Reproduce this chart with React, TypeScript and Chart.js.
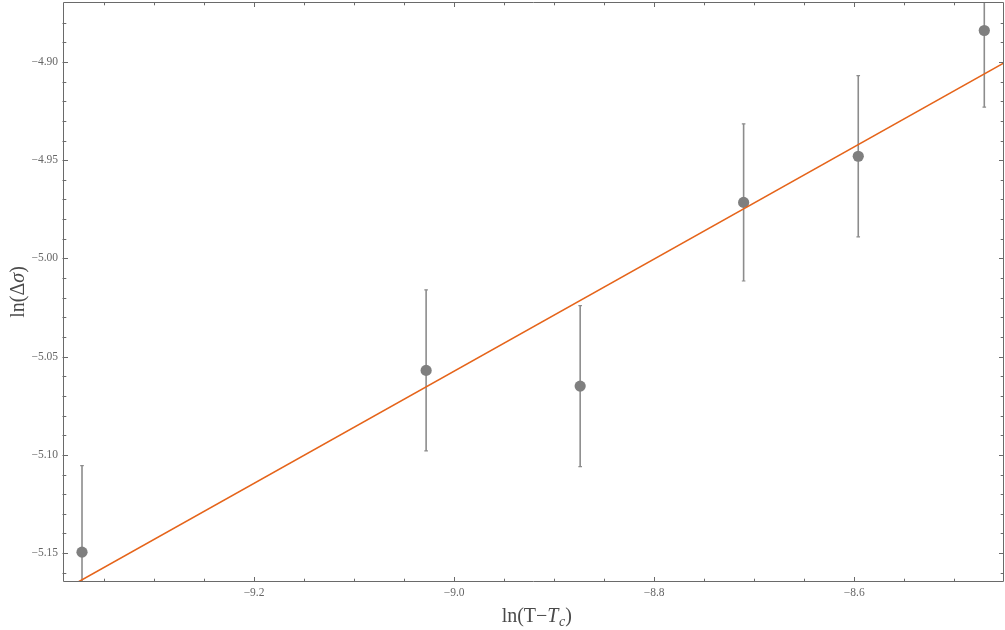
import React, { useEffect, useRef } from "react";
import { Chart, registerables } from "chart.js";

Chart.register(...registerables);

// ---- data ----
const xValues = [-9.372, -9.028, -8.874, -8.7106, -8.596, -8.47];
const yValues = [-5.1495, -5.057, -5.065, -4.9715, -4.948, -4.884];
const yErrors = [0.044, 0.041, 0.041, 0.04, 0.041, 0.039];

const fitX = [-9.391, -8.4503];
const fitY = [-5.169, -4.9005];

const xMajorTicks = [-9.2, -9.0, -8.8, -8.6];
const xMinorTicks = [-9.35, -9.3, -9.25, -9.15, -9.1, -9.05, -8.95, -8.9, -8.85, -8.75, -8.7, -8.65, -8.55, -8.5];
const yMajorTicks = [-4.9, -4.95, -5.0, -5.05, -5.1, -5.15];
const yMinorTicks = [
  -4.88, -4.89, -4.91, -4.92, -4.93, -4.94, -4.96, -4.97, -4.98, -4.99,
  -5.01, -5.02, -5.03, -5.04, -5.06, -5.07, -5.08, -5.09,
  -5.11, -5.12, -5.13, -5.14, -5.16,
];

const X_MIN = -9.391;
const X_MAX = -8.4503;
const Y_MIN = -5.1647;
const Y_MAX = -4.8695;

const FRAME = "#6a6a6a";
const TICK_LABEL = "#666666";
const TITLE = "#4a4a4a";
const POINT = "#7f7f7f";
const ERRBAR = "#8c8c8c";
const FIT = "#e5641a";

const fmt = (v: number, d: number) => {
  const s = Math.abs(v).toFixed(d);
  return v < 0 ? "\u2212" + s : s;
};

const decorPlugin = {
  id: "decor",
  beforeDatasetsDraw(chart: any) {
    const { ctx, chartArea: a, scales } = chart;
    const xs = scales.x;
    const ys = scales.y;
    ctx.save();
    ctx.beginPath();
    ctx.rect(a.left, a.top, a.right - a.left, a.bottom - a.top);
    ctx.clip();
    ctx.strokeStyle = ERRBAR;
    xValues.forEach((xv, i) => {
      const px = xs.getPixelForValue(xv);
      const top = ys.getPixelForValue(yValues[i] + yErrors[i]);
      const bot = ys.getPixelForValue(yValues[i] - yErrors[i]);
      ctx.lineWidth = 1.6;
      ctx.beginPath();
      ctx.moveTo(px, top);
      ctx.lineTo(px, bot);
      ctx.stroke();
      ctx.lineWidth = 1.2;
      ctx.beginPath();
      ctx.moveTo(px - 1.8, top);
      ctx.lineTo(px + 1.8, top);
      ctx.moveTo(px - 1.8, bot);
      ctx.lineTo(px + 1.8, bot);
      ctx.stroke();
    });
    ctx.restore();
  },
  afterDraw(chart: any) {
    const { ctx, chartArea: a, scales } = chart;
    const xs = scales.x;
    const ys = scales.y;
    ctx.save();
    ctx.strokeStyle = FRAME;
    ctx.lineWidth = 1;
    const L = Math.round(a.left) + 0.5;
    const R = Math.round(a.right) - 0.5;
    const T = Math.round(a.top) + 0.5;
    const B = Math.round(a.bottom) - 0.5;
    ctx.beginPath();
    ctx.rect(L, T, R - L, B - T);
    ctx.stroke();
    const major = 4.5;
    const minor = 2.8;
    ctx.beginPath();
    const xt = (v: number, len: number) => {
      const p = Math.round(xs.getPixelForValue(v)) + 0.5;
      ctx.moveTo(p, B);
      ctx.lineTo(p, B - len);
      ctx.moveTo(p, T);
      ctx.lineTo(p, T + len);
    };
    const yt = (v: number, len: number) => {
      const p = Math.round(ys.getPixelForValue(v)) + 0.5;
      ctx.moveTo(L - 1, p);
      ctx.lineTo(L + len, p);
      ctx.moveTo(R, p);
      ctx.lineTo(R - len, p);
    };
    xMajorTicks.forEach((v) => xt(v, major));
    xMinorTicks.forEach((v) => xt(v, minor));
    yMajorTicks.forEach((v) => yt(v, major));
    yMinorTicks.forEach((v) => yt(v, minor));
    ctx.stroke();

    // axis titles
    ctx.fillStyle = TITLE;
    ctx.textBaseline = "alphabetic";
    const fam = "'Liberation Serif', 'DejaVu Serif', serif";
    const parts: [string, string][] = [
      ["ln(T\u2212", `20px ${fam}`],
      ["T", `italic 20px ${fam}`],
      ["c", `italic 14px ${fam}`],
      [")", `20px ${fam}`],
    ];
    let total = 0;
    const widths = parts.map(([t, f]) => {
      ctx.font = f;
      const w = ctx.measureText(t).width;
      total += w;
      return w;
    });
    let cx = (a.left + a.right) / 2 - total / 2 + 3;
    const baseY = 622;
    parts.forEach(([t, f], i) => {
      ctx.font = f;
      ctx.fillText(t, cx, i === 2 ? baseY + 4 : baseY);
      cx += widths[i] + (i === 1 ? 0.5 : 0);
    });

    ctx.save();
    ctx.translate(24, (a.top + a.bottom) / 2);
    ctx.rotate(-Math.PI / 2);
    const yparts: [string, string][] = [
      ["ln(\u0394", `20px ${fam}`],
      ["\u03c3", `italic 20px ${fam}`],
      [")", `20px ${fam}`],
    ];
    let yt2 = 0;
    const yw = yparts.map(([t, f]) => {
      ctx.font = f;
      const w = ctx.measureText(t).width;
      yt2 += w;
      return w;
    });
    let yx = -yt2 / 2;
    yparts.forEach(([t, f], i) => {
      ctx.font = f;
      ctx.fillText(t, yx, 0);
      yx += yw[i];
    });
    ctx.restore();
    ctx.restore();
  },
};

export default function App() {
  const ref = useRef<HTMLCanvasElement | null>(null);
  useEffect(() => {
    if (!ref.current) return;
    const tickFont = { family: "'Liberation Serif', 'DejaVu Serif', serif", size: 11.5 };
    const chart = new Chart(ref.current, {
      type: "scatter",
      data: {
        datasets: [
          {
            type: "line",
            label: "fit",
            data: fitX.map((x, i) => ({ x, y: fitY[i] })),
            borderColor: FIT,
            borderWidth: 1.6,
            pointRadius: 0,
            fill: false,
            order: 0,
          } as any,
          {
            label: "data",
            data: xValues.map((x, i) => ({ x, y: yValues[i] })),
            backgroundColor: POINT,
            borderColor: POINT,
            pointRadius: 5.6,
            borderWidth: 0,
            order: 1,
          },
        ],
      },
      options: {
        responsive: false,
        animation: false,
        layout: { autoPadding: false, padding: { top: 2, right: 1, left: 0, bottom: 0 } },
        plugins: { legend: { display: false }, tooltip: { enabled: false } },
        scales: {
          x: {
            type: "linear",
            min: X_MIN,
            max: X_MAX,
            grid: { display: false, drawTicks: false },
            border: { display: false },
            afterBuildTicks: (s: any) => {
              s.ticks = xMajorTicks.map((v) => ({ value: v }));
            },
            afterFit: (s: any) => {
              s.height = 48;
              s.paddingLeft = 0;
              s.paddingRight = 0;
            },
            ticks: {
              color: TICK_LABEL,
              font: tickFont,
              padding: 4,
              maxRotation: 0,
              autoSkip: false,
              callback: (v: any) => fmt(Number(v), 1),
            },
          },
          y: {
            type: "linear",
            min: Y_MIN,
            max: Y_MAX,
            grid: { display: false, drawTicks: false },
            border: { display: false },
            afterBuildTicks: (s: any) => {
              s.ticks = yMajorTicks.map((v) => ({ value: v }));
            },
            afterFit: (s: any) => {
              s.width = 63;
              s.paddingTop = 0;
              s.paddingBottom = 0;
            },
            ticks: {
              color: TICK_LABEL,
              font: tickFont,
              padding: 5,
              autoSkip: false,
              callback: (v: any) => fmt(Number(v), 2),
            },
          },
        },
      },
      plugins: [decorPlugin],
    });
    return () => chart.destroy();
  }, []);
  return (
    <div style={{ position: "absolute", left: 0, top: 0, width: 1005, height: 630, background: "#fff" }}>
      <canvas ref={ref} width={1005} height={630} style={{ width: 1005, height: 630, display: "block" }} />
    </div>
  );
}
